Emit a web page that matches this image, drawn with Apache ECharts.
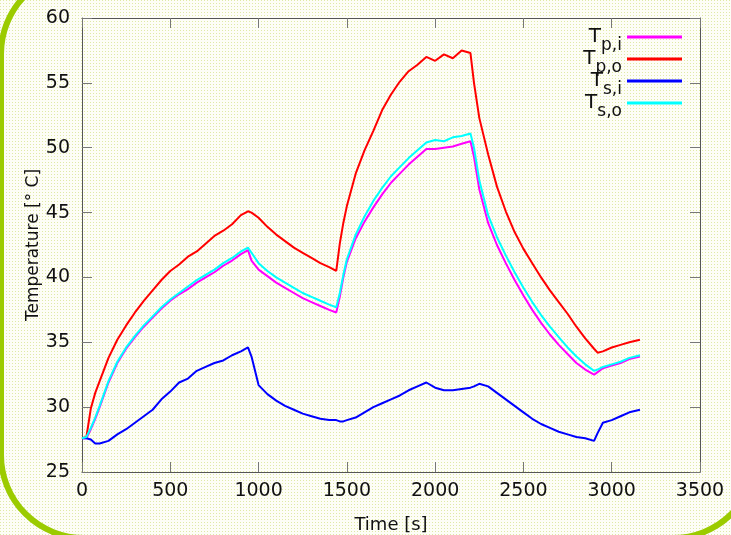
<!DOCTYPE html>
<html>
<head>
<meta charset="utf-8">
<script src="https://cdn.jsdelivr.net/npm/echarts@6/dist/echarts.min.js"></script>
<style>
  html, body { margin: 0; padding: 0; }
  body {
    width: 731px; height: 535px; overflow: hidden;
    background-color: #fdfdf6;
    background-image: url("data:image/svg+xml,%3Csvg xmlns='http://www.w3.org/2000/svg' width='3' height='3'%3E%3Crect width='1' height='1' fill='%23dfe9a6'/%3E%3C/svg%3E");
    background-size: 3px 3px;
  }
  #chart { width: 731px; height: 535px; }
</style>
</head>
<body>
<div id="chart"></div>
<script>
// time [s]
const time = [0, 25, 50, 75, 100, 150, 200, 250, 300, 350, 400, 450, 500, 550, 600, 650, 700, 750, 800, 850, 900, 940, 960,
  1000, 1050, 1100, 1150, 1200, 1250, 1300, 1350, 1400, 1440, 1460, 1480, 1500, 1550, 1600, 1650, 1700, 1750, 1800, 1850,
  1900, 1950, 2000, 2050, 2100, 2150, 2200, 2220, 2250, 2300, 2350, 2400, 2450, 2500, 2550, 2600, 2650, 2700, 2750, 2800,
  2850, 2900, 2920, 2950, 3000, 3050, 3100, 3160];

// T_p,i  (magenta)
const tpi = [27.6, 27.6, 28.3, 29.1, 30.0, 31.9, 33.4, 34.5, 35.4, 36.2, 36.9, 37.6, 38.2, 38.7, 39.1, 39.6, 40.0, 40.4, 40.9, 41.3, 41.8, 42.1, 41.3,
  40.6, 40.1, 39.6, 39.2, 38.8, 38.4, 38.1, 37.8, 37.5, 37.3, 38.5, 40.0, 41.2, 43.0, 44.3, 45.4, 46.4, 47.3, 48.0, 48.7,
  49.3, 49.9, 49.9, 50.0, 50.1, 50.3, 50.5, 49.3, 46.8, 44.2, 42.5, 41.1, 39.8, 38.6, 37.5, 36.5, 35.6, 34.8, 34.1, 33.4,
  32.9, 32.5, 32.7, 33.0, 33.2, 33.4, 33.7, 33.9];

// T_p,o  (red)
const tpo = [27.6, 27.7, 29.9, 31.1, 32.0, 33.8, 35.2, 36.3, 37.3, 38.2, 39.0, 39.8, 40.5, 41.0, 41.6, 42.0, 42.6, 43.2, 43.6, 44.1, 44.8, 45.1, 45.0,
  44.6, 43.9, 43.3, 42.8, 42.3, 41.9, 41.5, 41.1, 40.8, 40.5, 42.6, 44.2, 45.5, 48.0, 49.8, 51.3, 52.9, 54.1, 55.1, 55.9,
  56.4, 57.0, 56.7, 57.2, 56.9, 57.5, 57.3, 55.0, 52.3, 49.5, 47.0, 45.1, 43.5, 42.2, 41.1, 40.0, 39.0, 38.1, 37.2, 36.2,
  35.3, 34.5, 34.2, 34.3, 34.6, 34.8, 35.0, 35.2];

// T_s,i  (blue)
const tsi = [27.6, 27.6, 27.5, 27.2, 27.2, 27.4, 27.9, 28.3, 28.8, 29.3, 29.8, 30.6, 31.2, 31.9, 32.2, 32.8, 33.1, 33.4, 33.6, 34.0, 34.3, 34.6, 33.9,
  31.7, 31.0, 30.5, 30.1, 29.8, 29.5, 29.3, 29.1, 29.0, 29.0, 28.9, 28.9, 29.0, 29.2, 29.6, 30.0, 30.3, 30.6, 30.9, 31.3,
  31.6, 31.9, 31.5, 31.3, 31.3, 31.4, 31.5, 31.6, 31.8, 31.6, 31.1, 30.6, 30.1, 29.6, 29.1, 28.7, 28.4, 28.1, 27.9, 27.7,
  27.6, 27.4, 28.0, 28.8, 29.0, 29.3, 29.6, 29.8];

// T_s,o  (cyan)
const tso = [27.6, 27.7, 28.4, 29.2, 30.1, 32.0, 33.5, 34.6, 35.5, 36.3, 37.0, 37.7, 38.3, 38.8, 39.3, 39.8, 40.2, 40.6, 41.1, 41.5, 42.0, 42.3, 41.9,
  41.1, 40.5, 40.0, 39.6, 39.2, 38.8, 38.5, 38.2, 37.9, 37.7, 38.8, 40.2, 41.4, 43.3, 44.7, 45.9, 46.9, 47.8, 48.5, 49.2,
  49.8, 50.4, 50.6, 50.5, 50.8, 50.9, 51.1, 50.0, 47.5, 44.8, 43.1, 41.7, 40.4, 39.2, 38.1, 37.1, 36.2, 35.4, 34.6, 33.9,
  33.3, 32.8, 32.9, 33.1, 33.3, 33.5, 33.8, 34.0];

const seriesNames = ['Tp,i', 'Tp,o', 'Ts,i', 'Ts,o'];
const subscripts = ['p,i', 'p,o', 's,i', 's,o'];
const colors = ['#ff00ff', '#ff0000', '#0000ff', '#00ffff'];
const values = [tpi, tpo, tsi, tso];

const font = 'DejaVu Sans';

const pairs = (ys) => time.map((t, i) => [t, ys[i]]);

const chart = echarts.init(document.getElementById('chart'));

const axisStyle = {
  axisLine: { show: true, onZero: false, lineStyle: { color: '#555', width: 1 } },
  axisTick: { show: true, inside: true, length: 10, lineStyle: { color: '#777' } },
  splitLine: { show: false }
};

chart.setOption({
  animation: false,
  backgroundColor: 'transparent',
  grid: { left: 82, right: 31, top: 18, bottom: 63, containLabel: false, outerBoundsMode: 'none' },
  graphic: [{
    type: 'rect',
    z: -1,
    shape: { x: 1, y: -29, width: 755, height: 567, r: 83 },
    style: { fill: null, stroke: '#9bcb00', lineWidth: 6 }
  }],
  legend: {
    orient: 'vertical',
    right: 44,
    top: 22,
    align: 'right',
    itemWidth: 55,
    itemHeight: 3,
    itemGap: -5,
    icon: 'rect',
    data: seriesNames,
    formatter: (name) => '{t|T}{s|' + subscripts[seriesNames.indexOf(name)] + '}',
    textStyle: {
      padding: [0, 0, 0, 0],
      rich: {
        t: { fontFamily: font, fontSize: 20, lineHeight: 20, color: '#111', verticalAlign: 'top' },
        s: { fontFamily: font, fontSize: 17, lineHeight: 12, color: '#111', verticalAlign: 'top', padding: [10, 0, 0, 0] }
      }
    }
  },
  xAxis: [{
    type: 'value',
    min: 0, max: 3500, interval: 500,
    name: 'Time [s]',
    nameLocation: 'middle',
    nameGap: 44,
    nameMoveOverlap: false,
    nameTextStyle: { fontFamily: font, fontSize: 18, color: '#111' },
    axisLabel: { fontFamily: font, fontSize: 19, color: '#111', margin: 10, formatter: (v) => String(v) },
    ...axisStyle
  }, {
    type: 'value',
    position: 'top',
    min: 0, max: 3500, interval: 500,
    axisLabel: { show: false },
    ...axisStyle
  }],
  yAxis: [{
    type: 'value',
    min: 25, max: 60, interval: 5,
    name: 'Temperature [° C]',
    nameLocation: 'middle',
    nameGap: 40,
    nameMoveOverlap: false,
    nameRotate: 90,
    nameTextStyle: { fontFamily: font, fontSize: 17, color: '#111' },
    axisLabel: { fontFamily: font, fontSize: 19, color: '#111', margin: 12 },
    ...axisStyle
  }, {
    type: 'value',
    position: 'right',
    min: 25, max: 60, interval: 5,
    axisLabel: { show: false },
    ...axisStyle
  }],
  series: seriesNames.map((name, i) => ({
    name: name,
    type: 'line',
    xAxisIndex: 0,
    yAxisIndex: 0,
    data: pairs(values[i]),
    showSymbol: false,
    color: colors[i],
    lineStyle: { color: colors[i], width: 2 }
  }))
});

window.addEventListener('resize', () => {
  chart.resize();
});
</script>
</body>
</html>
